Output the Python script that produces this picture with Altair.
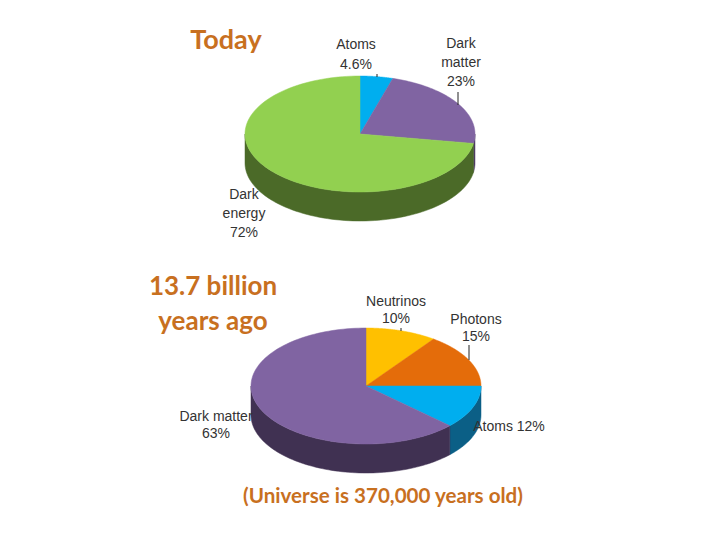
import numpy as np
import pandas as pd
import altair as alt

# Values (percent shares, clockwise from 12 o'clock)
today_names = ["Atoms", "Dark matter", "Dark energy"]
today_values = [4.6, 23, 72.4]
today_colors = ["#00aeef", "#8064a2", "#92d050"]
today_sides = ["#00688f", "#4d3c61", "#4b6a28"]

early_names = ["Neutrinos", "Photons", "Atoms", "Dark matter"]
early_values = [10, 15, 12, 63]
early_colors = ["#ffc000", "#e46c0a", "#00aeef", "#8064a2"]
early_sides = ["#997300", "#8a4106", "#0b5f86", "#403152"]

RX, RY, DEPTH = 115, 58, 29


def pie_rows(prefix, names, values, colors, sides, cx, cy):
    rows = []
    total = sum(values)
    edges = np.cumsum([0] + list(values)) / total * 360
    # the visible wall: only the near half of the rim
    for i, name in enumerate(names):
        a, b = max(edges[i], 90), min(edges[i + 1], 270)
        if b <= a:
            continue
        t = np.radians(np.linspace(a, b, 80))
        xs = cx + RX * np.sin(t)
        ys = cy - RY * np.cos(t)
        px = list(xs) + list(xs[::-1])
        py = list(ys) + list(ys[::-1] + DEPTH)
        key = f"{prefix}0side{i}"
        rows += [dict(key=key, x=p, y=q, n=k, col=sides[i], name=name)
                 for k, (p, q) in enumerate(zip(px, py))]
    # the top face
    for i, name in enumerate(names):
        t = np.radians(np.linspace(edges[i], edges[i + 1], 120))
        px = [cx] + list(cx + RX * np.sin(t)) + [cx]
        py = [cy] + list(cy - RY * np.cos(t)) + [cy]
        key = f"{prefix}1top{i}"
        rows += [dict(key=key, x=p, y=q, n=k, col=colors[i], name=name)
                 for k, (p, q) in enumerate(zip(px, py))]
    return rows


df = pd.DataFrame(
    pie_rows("a", today_names, today_values, today_colors, today_sides, 360, 134)
    + pie_rows("b", early_names, early_values, early_colors, early_sides, 366, 386)
)

xs = alt.Scale(domain=[8, 712], nice=False, zero=False)
ys = alt.Scale(domain=[532, 8], nice=False, zero=False)

layers = []
for key, part in df.groupby("key", sort=True):
    col = part["col"].iloc[0]
    layers.append(
        alt.Chart(part).mark_line(fill=col, stroke=col, strokeWidth=0.5, interpolate="linear-closed").encode(
            x=alt.X("x:Q", scale=xs, axis=None),
            y=alt.Y("y:Q", scale=ys, axis=None),
            order="n:Q",
        )
    )

leaders = pd.DataFrame(dict(x=[377, 458, 401, 469], y=[74, 92, 328, 345], y2=[77, 105, 331, 360]))
layers.append(
    alt.Chart(leaders).mark_rule(color="#222222", strokeWidth=1).encode(
        x=alt.X("x:Q", scale=xs, axis=None),
        y=alt.Y("y:Q", scale=ys, axis=None),
        y2="y2:Q",
    )
)


def text(lines, x, y, size=14, color="#333333", font="Liberation Sans", weight="normal", lh=None):
    return alt.Chart(pd.DataFrame(dict(x=[x], y=[y]))).mark_text(
        text=lines, font=font, fontSize=size, color=color, fontWeight=weight,
        align="center", baseline="middle", lineHeight=lh or size * 1.2,
    ).encode(x=alt.X("x:Q", scale=xs, axis=None), y=alt.Y("y:Q", scale=ys, axis=None))


ORANGE = "#c8701f"
layers += [
    text(["Atoms", "4.6%"], 356, 45, lh=20),
    text(["Dark", "matter", "23%"], 461, 44, lh=19),
    text(["Dark", "energy", "72%"], 244, 195, lh=19),
    text(["Neutrinos", "10%"], 396, 302, lh=16.5),
    text(["Photons", "15%"], 476, 320, lh=17),
    text(["Dark matter", "63%"], 216, 417, lh=16.5),
    text(["Atoms 12%"], 509, 427),
    text(["Today"], 226, 41, 27, ORANGE, "Lato", "bold"),
    text(["13.7 billion", "years ago"], 213, 287, 26, ORANGE, "Lato", "bold", 35),
    text(["(Universe is 370,000 years old)"], 383, 497, 20.6, ORANGE, "Lato", "bold"),
]

chart = alt.layer(*layers).properties(
    width=704, height=524, padding=0, autosize=alt.AutoSizeParams(type="none"), background="white"
).configure_view(stroke=None)

chart.save("out.html", embed_options={"renderer": "svg", "actions": False})
